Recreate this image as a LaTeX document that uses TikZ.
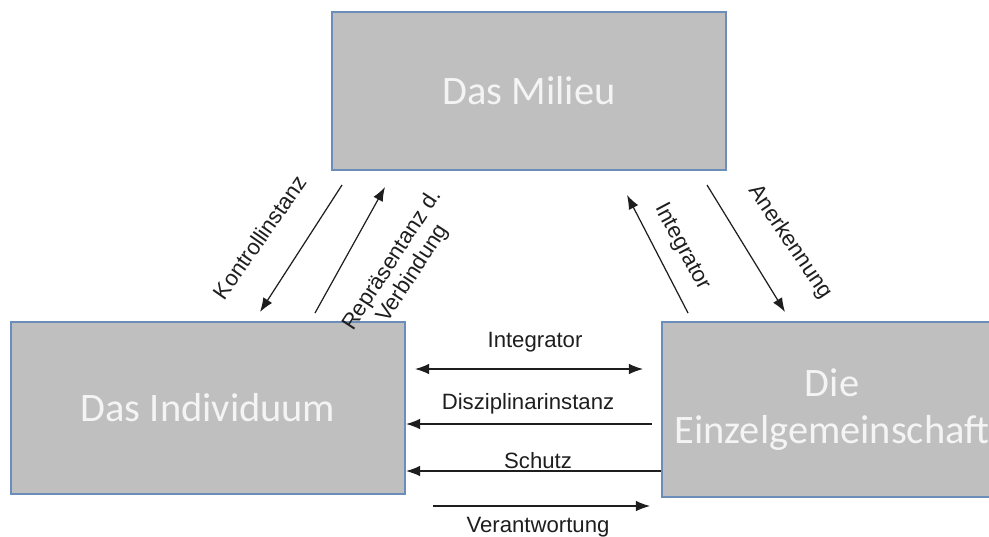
\documentclass[tikz,border=0pt]{standalone}
\usepackage{fontspec}
\setmainfont{Liberation Sans}
\newfontfamily\boxfont{Carlito}
\usetikzlibrary{arrows.meta}
\definecolor{boxgray}{HTML}{BFBFBF}
\definecolor{boxline}{HTML}{6A8DBA}
\definecolor{boxtext}{HTML}{F4F4F4}
\definecolor{linegray}{HTML}{1E1E1E}

\begin{document}
\begin{tikzpicture}[x=0.01cm,y=-0.01cm,
  box/.style={draw=boxline, fill=boxgray, line width=0.5pt, inner sep=0pt,
    font=\boxfont\fontsize{11.5}{13.5}\selectfont, text=boxtext, align=center},
  arr/.style={draw=linegray, line width=0.35pt, -{Latex[length=4pt,width=3pt]}},
  dblarr/.style={arr, {Latex[length=4pt,width=3pt]}-{Latex[length=4pt,width=3pt]}},
  lbl/.style={font=\fontsize{6.3}{7}\selectfont, text=linegray, inner sep=0pt, align=center}]
  % canvas
  \clip (0,0) rectangle (989,536);
  % boxes
  \node[box, minimum width=3.94cm, minimum height=1.58cm] (milieu) at (529,91) {Das Milieu};
  \node[box, minimum width=3.94cm, minimum height=1.72cm] (indiv) at (208,408) {Das Individuum};
  \node[box, minimum width=3.40cm, minimum height=1.75cm] (einzel) at (832,409.5) {Die\\Einzelgemeinschaft};

  % diagonal arrows, left
  \coordinate (kon1) at (342,185);
  \coordinate (kon2) at (260,312);
  \coordinate (rep1) at (315,313);
  \coordinate (rep2) at (385,187);
  \draw[arr] (kon1) -- (kon2);
  \draw[arr] (rep1) -- (rep2);
  \node[lbl, rotate=55] (kontxt) at (260,237) {Kontrollinstanz};
  \node[lbl, rotate=57] (reptxt) at (403,267) {Repräsentanz d.\\Verbindung};

  % diagonal arrows, right
  \coordinate (int1) at (688,313);
  \coordinate (int2) at (627,195);
  \coordinate (ane1) at (707,185);
  \coordinate (ane2) at (785,312);
  \draw[arr] (int1) -- (int2);
  \draw[arr] (ane1) -- (ane2);
  \node[lbl, rotate=-62] (inttxt) at (682,247) {Integrator};
  \node[lbl, rotate=-56] (anetxt) at (790,242) {Anerkennung};

  % horizontal arrows
  \coordinate (hint1) at (415,369);
  \coordinate (hint2) at (643,369);
  \coordinate (dis1) at (652,424);
  \coordinate (sch1) at (einzel.west |- 0,471);
  \coordinate (ver1) at (433,506);
  \coordinate (ver2) at (650,506);
  \draw[dblarr] (hint1) -- (hint2);
  \draw[arr] (dis1) -- (dis1 -| indiv.east);
  \draw[arr] (sch1) -- (sch1 -| indiv.east);
  \draw[arr] (ver1) -- (ver2);
  % labels
  \node[lbl, anchor=base] (hinttxt) at (535,347) {Integrator};
  \node[lbl, anchor=base] (distxt) at (528,409) {Disziplinarinstanz};
  \node[lbl, anchor=base] (schtxt) at (538,468) {Schutz};
  \node[lbl, anchor=base] (vertxt) at (538,532) {Verantwortung};
\end{tikzpicture}
\end{document}
